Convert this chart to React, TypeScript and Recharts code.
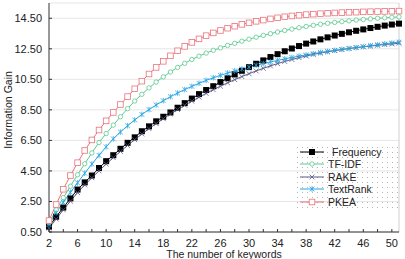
import * as React from "react";
import {
  LineChart,
  CartesianGrid,
  XAxis,
  YAxis,
  Legend,
  Line,
  ReferenceLine
} from "recharts";

const FONT = '"Liberation Sans", Arial, sans-serif';

// number of extracted keywords
const keywordCounts = [
  2, 3, 4, 5, 6, 7, 8, 9, 10, 11, 12, 13, 14, 15, 16, 17, 18, 19, 20, 21, 22, 23, 24, 25, 26,
  27, 28, 29, 30, 31, 32, 33, 34, 35, 36, 37, 38, 39, 40, 41, 42, 43, 44, 45, 46, 47, 48, 49, 50, 51
];

const frequency = [
  0.85, 1.5, 2.1, 2.7, 3.28, 3.75, 4.2, 4.69, 5.14, 5.53, 5.95, 6.34, 6.7, 7.1, 7.42, 7.75, 8.05,
  8.33, 8.64, 8.94, 9.24, 9.53, 9.8, 10.05, 10.32, 10.57, 10.82, 11.06, 11.3, 11.52, 11.74, 11.96,
  12.15, 12.34, 12.52, 12.68, 12.84, 12.98, 13.12, 13.25, 13.37, 13.48, 13.58, 13.68, 13.77, 13.86,
  13.94, 14.02, 14.09, 14.15
];

const tfIdf = [
  1.1, 1.95, 2.75, 3.5, 4.25, 4.97, 5.68, 6.36, 6.95, 7.5, 8.05, 8.58, 9.08, 9.52, 9.94, 10.32,
  10.66, 10.98, 11.28, 11.55, 11.8, 12.02, 12.22, 12.4, 12.56, 12.72, 12.86, 13.0, 13.13, 13.26,
  13.38, 13.49, 13.6, 13.7, 13.79, 13.88, 13.96, 14.04, 14.11, 14.17, 14.23, 14.28, 14.33, 14.38,
  14.42, 14.46, 14.5, 14.53, 14.56, 14.59
];

const rake = [
  0.75, 1.35, 1.95, 2.52, 3.08, 3.58, 4.05, 4.5, 4.95, 5.37, 5.78, 6.17, 6.55, 6.92, 7.27, 7.6,
  7.92, 8.23, 8.52, 8.8, 9.07, 9.33, 9.58, 9.82, 10.05, 10.27, 10.48, 10.68, 10.87, 11.05, 11.22,
  11.38, 11.53, 11.67, 11.8, 11.92, 12.03, 12.13, 12.22, 12.3, 12.38, 12.45, 12.52, 12.58, 12.63,
  12.68, 12.73, 12.78, 12.82, 12.86
];

const textRank = [
  1.0, 1.75, 2.45, 3.1, 3.72, 4.35, 4.95, 5.52, 6.08, 6.6, 7.05, 7.46, 7.84, 8.2, 8.52, 8.82, 9.1,
  9.36, 9.6, 9.83, 10.04, 10.24, 10.43, 10.6, 10.76, 10.91, 11.05, 11.18, 11.3, 11.42, 11.53, 11.64,
  11.74, 11.84, 11.93, 12.02, 12.1, 12.18, 12.26, 12.33, 12.4, 12.46, 12.52, 12.58, 12.64, 12.7,
  12.76, 12.82, 12.88, 12.94
];

const pkea = [
  1.25, 2.3, 3.3, 4.2, 5.04, 5.84, 6.53, 7.18, 7.78, 8.33, 8.85, 9.37, 9.88, 10.38, 10.85, 11.28,
  11.68, 12.04, 12.37, 12.66, 12.92, 13.15, 13.36, 13.54, 13.7, 13.85, 13.98, 14.1, 14.2, 14.3,
  14.38, 14.46, 14.53, 14.6, 14.65, 14.7, 14.74, 14.77, 14.8, 14.83, 14.85, 14.87, 14.89, 14.9,
  14.92, 14.93, 14.94, 14.95, 14.96, 14.97
];

const xTicks = [2, 4, 6, 8, 10, 12, 14, 16, 18, 20, 22, 24, 26, 28, 30, 32, 34, 36, 38, 40, 42, 44, 46, 48, 50];
const xTickLabels = [2, 6, 10, 14, 18, 22, 26, 30, 34, 38, 42, 46, 50];
const yTicks = [0.5, 2.5, 4.5, 6.5, 8.5, 10.5, 12.5, 14.5];

const data = keywordCounts.map((k, i) => ({
  k,
  frequency: frequency[i],
  tfIdf: tfIdf[i],
  rake: rake[i],
  textRank: textRank[i],
  pkea: pkea[i]
}));

const series = [
  { key: "frequency", name: "Frequency", color: "#000000", marker: "filledSquare" },
  { key: "tfIdf", name: "TF-IDF", color: "#5cc98f", marker: "circle" },
  { key: "rake", name: "RAKE", color: "#5b5b88", marker: "cross" },
  { key: "textRank", name: "TextRank", color: "#27a7e3", marker: "star" },
  { key: "pkea", name: "PKEA", color: "#e8737b", marker: "square" }
];

function Marker(props: { type: string; cx: number; cy: number; color: string }) {
  const { type, cx, cy, color } = props;
  if (cx == null || cy == null) return null;
  switch (type) {
    case "filledSquare":
      return <rect x={cx - 3} y={cy - 3} width={6} height={6} fill={color} />;
    case "circle":
      return <circle cx={cx} cy={cy} r={2.2} fill="#fff" stroke={color} strokeWidth={0.8} />;
    case "cross":
      return (
        <path
          d={`M${cx - 2.4},${cy - 2.4}L${cx + 2.4},${cy + 2.4}M${cx - 2.4},${cy + 2.4}L${cx + 2.4},${cy - 2.4}`}
          stroke={color}
          strokeWidth={0.8}
        />
      );
    case "star":
      return (
        <path
          d={`M${cx - 2.4},${cy - 2.4}L${cx + 2.4},${cy + 2.4}M${cx - 2.4},${cy + 2.4}L${cx + 2.4},${cy - 2.4}M${cx},${cy - 2.8}L${cx},${cy + 2.8}`}
          stroke={color}
          strokeWidth={0.8}
        />
      );
    default:
      return (
        <rect x={cx - 2.8} y={cy - 2.8} width={5.6} height={5.6} fill="#fff" stroke={color} strokeWidth={0.8} />
      );
  }
}

// x ticks point up into the plot, labels only every 4 keywords
function XTick(props: any) {
  const { x, y, payload } = props;
  const showLabel = xTickLabels.includes(payload.value);
  return (
    <g>
      <line x1={x} y1={y} x2={x} y2={y - 3} stroke="#333" />
      {showLabel && (
        <text x={x} y={y + 15} textAnchor="middle" fontSize={11} fill="#222" fontFamily={FONT}>
          {payload.value}
        </text>
      )}
    </g>
  );
}

function YTick(props: any) {
  const { x, y, payload } = props;
  return (
    <g>
      <line x1={x} y1={y} x2={x + 3} y2={y} stroke="#333" />
      <text x={x - 7} y={y + 4} textAnchor="end" fontSize={11} fill="#222" fontFamily={FONT}>
        {payload.value.toFixed(2)}
      </text>
    </g>
  );
}

function renderLegend() {
  return (
    <div
      style={{
        width: 104,
        height: 63,
        boxSizing: "border-box",
        paddingLeft: 5,
        paddingTop: 0.5,
        backgroundImage: "radial-gradient(circle, #b5b5b5 0.7px, transparent 1px)",
        backgroundSize: "5px 5px",
        fontFamily: FONT,
        fontSize: 10.5,
        color: "#222"
      }}
    >
      {series.map((s) => (
        <div key={s.key} style={{ display: "flex", alignItems: "center", height: 12.5 }}>
          <svg width={24} height={12} style={{ display: "block" }}>
            <line x1={0} y1={6} x2={24} y2={6} stroke={s.color} strokeWidth={1} />
            <Marker type={s.marker} cx={12} cy={6} color={s.color} />
          </svg>
          <span style={{ marginLeft: s.key === "frequency" ? 8 : 4, lineHeight: "12px" }}>{s.name}</span>
        </div>
      ))}
    </div>
  );
}

export default function App() {
  return (
    <div style={{ position: "absolute", left: 0, top: 0, background: "#fff" }}>
      <LineChart
        width={405}
        height={259}
        data={data}
        margin={{ top: 3, right: 6, left: 0, bottom: 0 }}
      >
        <CartesianGrid horizontal vertical={false} stroke="#e6e6e6" />
        <XAxis
          dataKey="k"
          type="number"
          domain={[2, 51]}
          ticks={xTicks}
          interval={0}
          height={27}
          tickSize={0}
          tickMargin={0}
          tickLine={false}
          tick={<XTick />}
          axisLine={{ stroke: "#333" }}
          label={() => (
            <text x={224} y={258} textAnchor="middle" fontSize={10.5} fill="#222" fontFamily={FONT}>
              The number of keywords
            </text>
          )}
        />
        <YAxis
          type="number"
          domain={[0.5, 15.5]}
          ticks={yTicks}
          interval={0}
          width={49}
          tickSize={0}
          tickMargin={0}
          tickLine={false}
          tick={<YTick />}
          axisLine={{ stroke: "#333" }}
          label={() => (
            <text
              x={8}
              y={110}
              transform="rotate(-90 8 110)"
              textAnchor="middle"
              dominantBaseline="central"
              fontSize={10.5}
              fill="#222"
              fontFamily={FONT}
            >
              Information Gain
            </text>
          )}
        />
        <ReferenceLine x={51} stroke="#cfcfcf" />
        <Legend
          layout="vertical"
          align="center"
          verticalAlign="middle"
          content={renderLegend}
          wrapperStyle={{ left: 295, top: 145, width: 104, height: 63 }}
        />
        {series.map((s) => (
          <Line
            key={s.key}
            type="linear"
            dataKey={s.key}
            name={s.name}
            stroke={s.color}
            strokeWidth={1}
            isAnimationActive={false}
            activeDot={false}
            dot={(p: any) => <Marker key={`${s.key}-${p.index}`} type={s.marker} cx={p.cx} cy={p.cy} color={s.color} />}
          />
        ))}
      </LineChart>
    </div>
  );
}
